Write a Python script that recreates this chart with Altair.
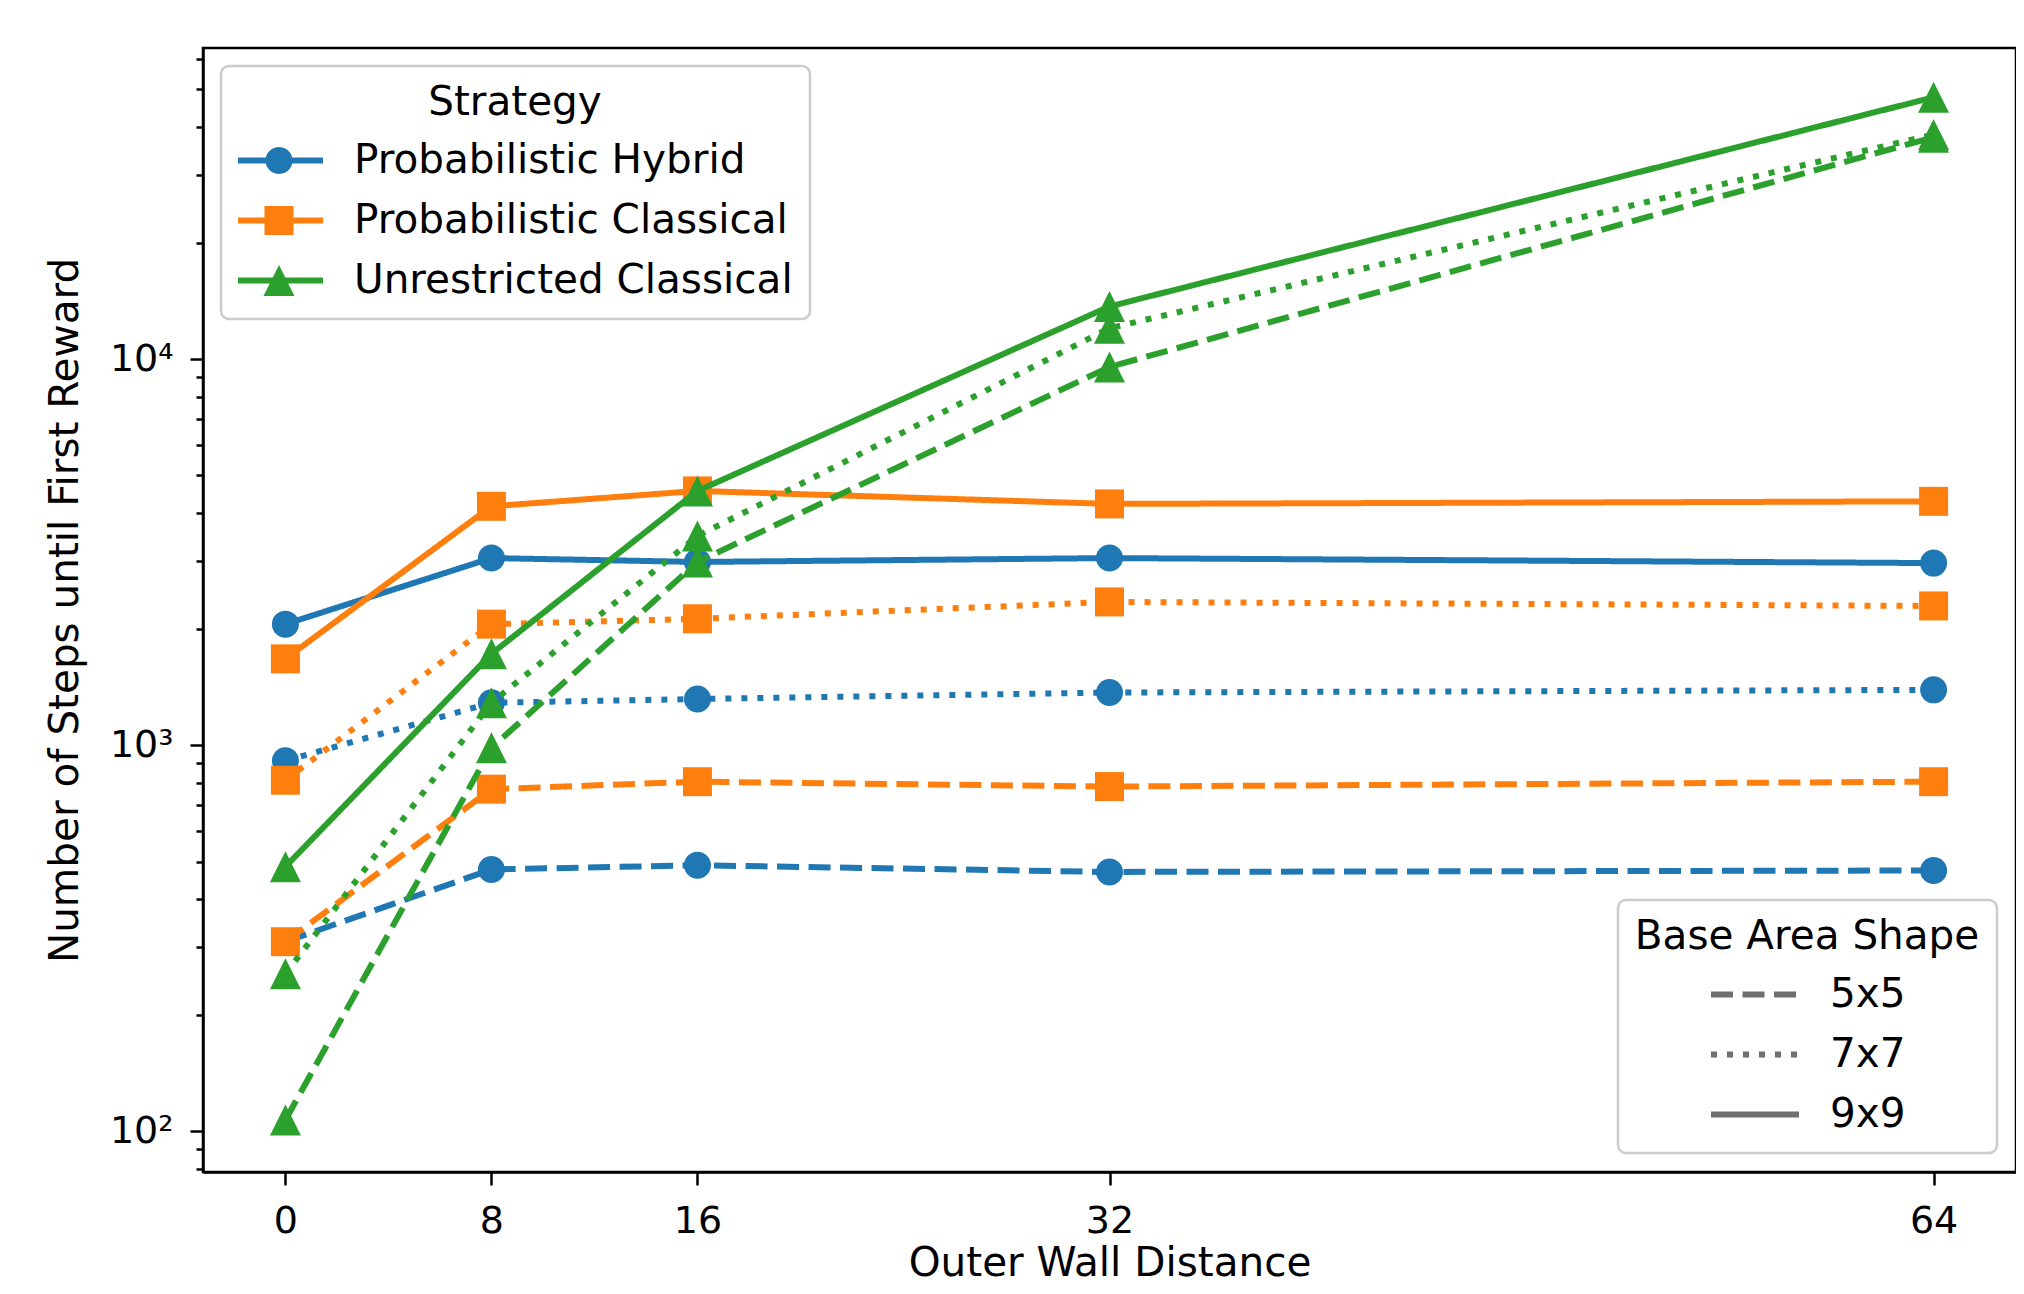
import math
import altair as alt
import pandas as pd

# ---------------- data ----------------
DISTANCES = [0, 8, 16, 32, 64]
STRATEGIES = ["Probabilistic Hybrid", "Probabilistic Classical", "Unrestricted Classical"]
SIZES = ["5x5", "7x7", "9x9"]

HYBRID_5X5 = [310, 477, 489, 470, 474]
HYBRID_7X7 = [912, 1289, 1318, 1370, 1392]
HYBRID_9X9 = [2060, 3055, 2985, 3055, 2965]

PCLASSICAL_5X5 = [310, 770, 805, 782, 805]
PCLASSICAL_7X7 = [812, 2060, 2127, 2352, 2296]
PCLASSICAL_9X9 = [1675, 4160, 4560, 4220, 4285]

UNRESTRICTED_5X5 = [107, 985, 2985, 9550, 37600]
UNRESTRICTED_7X7 = [256, 1289, 3485, 12030, 38200]
UNRESTRICTED_9X9 = [485, 1726, 4560, 13700, 47700]

SERIES = {
    ("Probabilistic Hybrid", "5x5"): HYBRID_5X5,
    ("Probabilistic Hybrid", "7x7"): HYBRID_7X7,
    ("Probabilistic Hybrid", "9x9"): HYBRID_9X9,
    ("Probabilistic Classical", "5x5"): PCLASSICAL_5X5,
    ("Probabilistic Classical", "7x7"): PCLASSICAL_7X7,
    ("Probabilistic Classical", "9x9"): PCLASSICAL_9X9,
    ("Unrestricted Classical", "5x5"): UNRESTRICTED_5X5,
    ("Unrestricted Classical", "7x7"): UNRESTRICTED_7X7,
    ("Unrestricted Classical", "9x9"): UNRESTRICTED_9X9,
}

Y_MAJOR = [100, 1000, 10000]
Y_MAJOR_LABELS = ["10\u00b2", "10\u00b3", "10\u2074"]
Y_MINOR = [80, 90, 200, 300, 400, 500, 600, 700, 800, 900,
           2000, 3000, 4000, 5000, 6000, 7000, 8000, 9000,
           20000, 30000, 40000, 50000, 60000]

rows = []
for (strategy, size), values in SERIES.items():
    for d, v in zip(DISTANCES, values):
        rows.append({"Strategy": strategy, "Size": size, "Distance": d, "Steps": v})
df = pd.DataFrame(rows)

# ---------------- styles ----------------
FONT = "DejaVu Sans"
FS_TICK = 38
FS = 40.5
COLORS = ["#1f77b4", "#ff7f0e", "#2ca02c"]
LINE_W = 6
DASHES = [[22, 9.5], [6, 10], [1, 0]]

TRIANGLE = "M0,-1L1,1L-1,1Z"
PLOT_SHAPES = ["circle", "square", TRIANGLE]
PLOT_SIZES = [729, 841, 961]


def circle_poly(r, n=40):
    pts = []
    for k in range(n):
        a = 2 * math.pi * k / n
        pts.append(f"{r * math.cos(a):.4f},{r * math.sin(a):.4f}")
    return "M" + "L".join(pts) + "Z"


# legend handle: a line segment plus the marker (units: 1 = 44px)
HANDLE_LINE = "M-1,-0.068L1,-0.068L1,0.068L-1,0.068Z"
s = 0.33
t = 0.352
LEGEND_SHAPES = [
    HANDLE_LINE + circle_poly(0.307),
    HANDLE_LINE + f"M{-s},{-s}L{s},{-s}L{s},{s}L{-s},{s}Z",
    HANDLE_LINE + f"M0,{-t}L{t},{t}L{-t},{t}Z",
]

major_test = "indexof([" + ",".join(str(v) for v in Y_MAJOR) + "], datum.value) >= 0"
label_expr = "''"
for v, lab in zip(reversed(Y_MAJOR), reversed(Y_MAJOR_LABELS)):
    label_expr = f"datum.value == {v} ? '{lab}' : ({label_expr})"

x_axis = alt.Axis(
    values=DISTANCES, format="d", grid=False,
    tickSize=13, tickWidth=2.5, tickColor="black",
    domainColor="black", domainWidth=2.5,
    labelFontSize=FS_TICK, labelColor="black", labelPadding=17, labelFont=FONT,
    title="Outer Wall Distance", titleFontSize=FS, titleFontWeight="normal",
    titleColor="black", titlePadding=3, titleFont=FONT,
)
y_axis = alt.Axis(
    values=Y_MAJOR + Y_MINOR, labelExpr=label_expr, labelOverlap=False, grid=False,
    tickSize={"condition": {"test": major_test, "value": 13}, "value": 7},
    tickWidth=2.5, tickColor="black",
    domainColor="black", domainWidth=2.5,
    labelFontSize=FS_TICK, labelColor="black", labelPadding=17, labelFont=FONT,
    title="Number of Steps until First Reward", titleFontSize=FS,
    titleFontWeight="normal", titleColor="black", titlePadding=23, titleFont=FONT,
)

X = alt.X("Distance:Q", scale=alt.Scale(domain=[-3.2, 67.2], nice=False, zero=False), axis=x_axis)
Y = alt.Y("Steps:Q", scale=alt.Scale(type="log", domain=[78.5, 64000], nice=False), axis=y_axis)

legend_common = dict(
    padding=17, fillColor="rgba(255,255,255,0.8)", strokeColor="#cccccc", cornerRadius=8,
    titleFontSize=FS, titleFontWeight="normal", titleColor="black", titleAnchor="middle",
    titlePadding=16, titleFont=FONT, titleLimit=2000,
    labelFontSize=FS, labelColor="black", labelFont=FONT, labelLimit=2000,
    clipHeight=42, rowPadding=18, symbolSize=7744,
)
legend_strategy = alt.Legend(
    title="Strategy", orient="top-left", offset=18,
    symbolStrokeWidth=0, symbolOffset=-3, labelOffset=31, **legend_common,
)
legend_shape = alt.Legend(
    title="Base Area Shape", orient="bottom-right", offset=19,
    symbolType="stroke", symbolStrokeWidth=LINE_W, symbolStrokeColor="#6f6f6f",
    symbolOffset=0, labelOffset=28, **legend_common,
)

DASH = alt.StrokeDash("Size:N", scale=alt.Scale(domain=SIZES, range=DASHES), legend=legend_shape)

base = alt.Chart(df)
layers = []
for strategy, color, shape, size in zip(STRATEGIES, COLORS, PLOT_SHAPES, PLOT_SIZES):
    sub = base.transform_filter(alt.datum.Strategy == strategy)
    layers.append(
        sub.mark_line(color=color, strokeWidth=LINE_W).encode(x=X, y=Y, strokeDash=DASH)
    )
    layers.append(
        sub.mark_point(shape=shape, size=size, filled=True, color=color,
                       opacity=1, strokeWidth=0).encode(x=X, y=Y, detail="Size:N")
    )

# legend carrier (no marks drawn): colour + line/marker handle per strategy
legend_layer = base.transform_filter("false").mark_point(filled=True, opacity=1).encode(
    x=X, y=Y,
    color=alt.Color("Strategy:N", scale=alt.Scale(domain=STRATEGIES, range=COLORS),
                    legend=legend_strategy),
    shape=alt.Shape("Strategy:N", scale=alt.Scale(domain=STRATEGIES, range=LEGEND_SHAPES),
                    legend=legend_strategy),
)
layers.append(legend_layer)

chart = alt.layer(*layers).properties(
    width=1813, height=1124,
    autosize=alt.AutoSizeParams(type="none"),
    padding={"left": 195, "top": 40, "right": 0, "bottom": 114},
).configure(font=FONT).configure_view(
    stroke="black", strokeWidth=2.5
).configure_legend(strokeWidth=2.5)

chart.save("out.html", embed_options={"renderer": "svg", "actions": False})
